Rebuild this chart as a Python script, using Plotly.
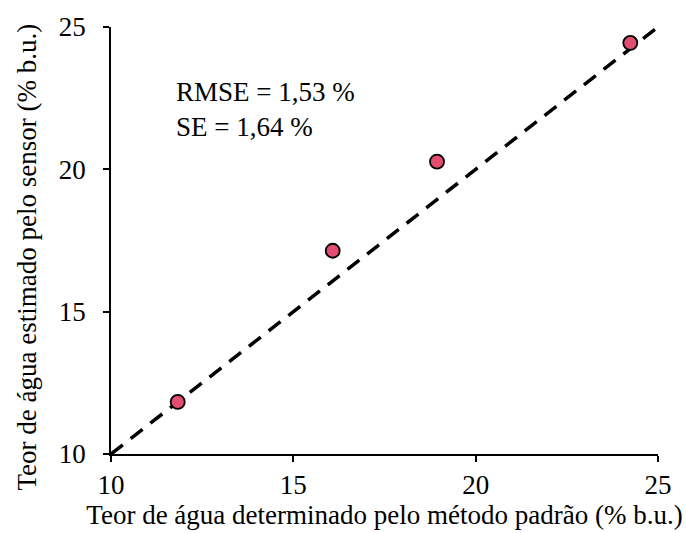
import plotly.graph_objects as go

# Data
standard_x = [11.83, 16.08, 18.94, 24.24]
sensor_y = [11.83, 17.14, 20.27, 24.44]
line_x = [10, 25]
line_y = [10, 25]
tick_vals = [10, 15, 20, 25]
stats_text = ["RMSE = 1,53 %", "SE = 1,64 %"]
x_title = "Teor de água determinado pelo método padrão (% b.u.)"
y_title = "Teor de água estimado pelo sensor (% b.u.)"

FONT = "Liberation Serif, Times New Roman, serif"
FS = 27

fig = go.Figure()
fig.add_trace(go.Scatter(
    x=line_x, y=line_y, mode="lines",
    line=dict(color="black", width=3.5, dash="15px,10px"),
    hoverinfo="skip", showlegend=False, cliponaxis=True,
))
fig.add_trace(go.Scatter(
    x=standard_x, y=sensor_y, mode="markers",
    marker=dict(size=14, color="#E34D6F", line=dict(color="black", width=1.8)),
    showlegend=False, cliponaxis=False,
))

fig.add_annotation(
    x=0.116, y=0.888, xref="paper", yref="paper",
    text=stats_text[0] + "<br>" + stats_text[1],
    showarrow=False, xanchor="left", yanchor="top", align="left",
    font=dict(family=FONT, size=FS, color="black"),
)
fig.add_annotation(
    x=-0.154, y=0.462, xref="paper", yref="paper",
    text=y_title, textangle=-90,
    showarrow=False, xanchor="center", yanchor="middle",
    font=dict(family=FONT, size=FS, color="black"),
)

axis_common = dict(
    showgrid=False, zeroline=False, showline=True, linecolor="black", linewidth=1.5,
    ticks="outside", ticklen=6, tickwidth=1.5, tickcolor="black",
    tickvals=tick_vals, tickfont=dict(family=FONT, size=FS, color="black"),
    mirror=False,
)

fig.update_layout(
    width=686, height=533,
    margin=dict(l=111, r=28, t=24, b=78),
    paper_bgcolor="white", plot_bgcolor="white",
    xaxis=dict(range=[10, 25], title=dict(text=x_title,
               font=dict(family=FONT, size=FS, color="black"), standoff=2), **axis_common),
    yaxis=dict(range=[10, 25], ticklabelstandoff=12, **axis_common),
)

fig.write_html("out.html")
